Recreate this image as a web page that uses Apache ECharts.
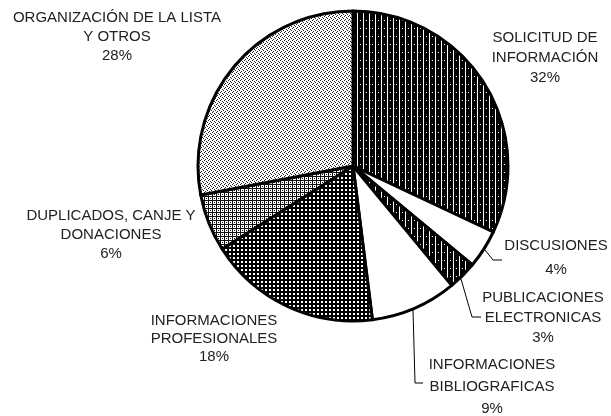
<!DOCTYPE html>
<html><head><meta charset="utf-8">
<script src="https://cdn.jsdelivr.net/npm/echarts@6/dist/echarts.min.js"></script>
<style>html,body{margin:0;padding:0;background:#fff}#c{width:611px;height:416px}</style>
</head><body><div id="c"></div>
<script>
// ---- data ----
const categories = [
  'SOLICITUD DE\nINFORMACIÓN',
  'DISCUSIONES',
  'PUBLICACIONES\nELECTRONICAS',
  'INFORMACIONES\nBIBLIOGRAFICAS',
  'INFORMACIONES\nPROFESIONALES',
  'DUPLICADOS, CANJE Y\nDONACIONES',
  'ORGANIZACIÓN DE LA LISTA\nY OTROS'
];
const values = [32, 4, 3, 9, 18, 6, 28];

// ---- styling helpers ----
function tile(w, h, bg, fg, rects) {
  const c = document.createElement('canvas');
  c.width = w; c.height = h;
  const g = c.getContext('2d');
  g.fillStyle = bg; g.fillRect(0, 0, w, h);
  g.fillStyle = fg;
  rects.forEach(r => g.fillRect(r[0], r[1], r[2], r[3]));
  return c;
}
const patVertical = tile(6, 8, '#000', '#fff', [[3,0,1,8],[0,4,1,1]]);
const patDarkGrid = tile(4, 4, '#000', '#fff', [[1,1,2,2]]);
const patLightGrid = tile(4, 4, '#fff', '#111', [[0,0,1,4],[1,0,3,1],[2,2,1,1]]);
const patStipple = tile(4, 4, '#fff', '#222', [[0,0,1,1],[2,1,1,1],[1,3,1,1],[3,2,1,1]]);

const fills = [
  {image: patVertical, repeat: 'repeat'},
  '#ffffff',
  {image: patVertical, repeat: 'repeat'},
  '#ffffff',
  {image: patDarkGrid, repeat: 'repeat'},
  {image: patLightGrid, repeat: 'repeat'},
  {image: patStipple, repeat: 'repeat'}
];
const labelPos = [[545,58],[556,258],[543,318],[492,387],[214,339],[111,235],[117,37]];
const lineHeights = [20,24,20,22,18,19,19];
const leaderPts = {
  1: [[485,250],[493,260],[502,260]],
  2: [[461,279],[472,317],[481,317]],
  3: [[413,310],[415,383],[423,383]]
};

const chart = echarts.init(document.getElementById('c'), null, {renderer: 'canvas'});
chart.setOption({
  backgroundColor: '#fff',
  animation: false,
  series: [{
    type: 'pie',
    center: [353, 166],
    radius: 155,
    startAngle: 90,
    clockwise: true,
    avoidLabelOverlap: false,
    itemStyle: {borderColor: '#000', borderWidth: 3},
    label: {
      show: true,
      formatter: p => p.name + '\n' + Math.round(p.percent) + '%',
      color: '#222',
      fontFamily: 'Liberation Sans, Arial, sans-serif',
      fontSize: 15,
      align: 'center'
    },
    labelLine: {show: true, lineStyle: {color: '#000', width: 1}},
    labelLayout: function (params) {
      const i = params.dataIndex;
      const o = {x: labelPos[i][0], y: labelPos[i][1], align: 'center', verticalAlign: 'middle'};
      if (leaderPts[i]) o.labelLinePoints = leaderPts[i];
      return o;
    },
    data: categories.map((n, i) => ({
      name: n,
      value: values[i],
      itemStyle: {color: fills[i]},
      label: {lineHeight: lineHeights[i]},
      labelLine: {show: !!leaderPts[i]}
    }))
  }]
});
</script>
</body></html>
